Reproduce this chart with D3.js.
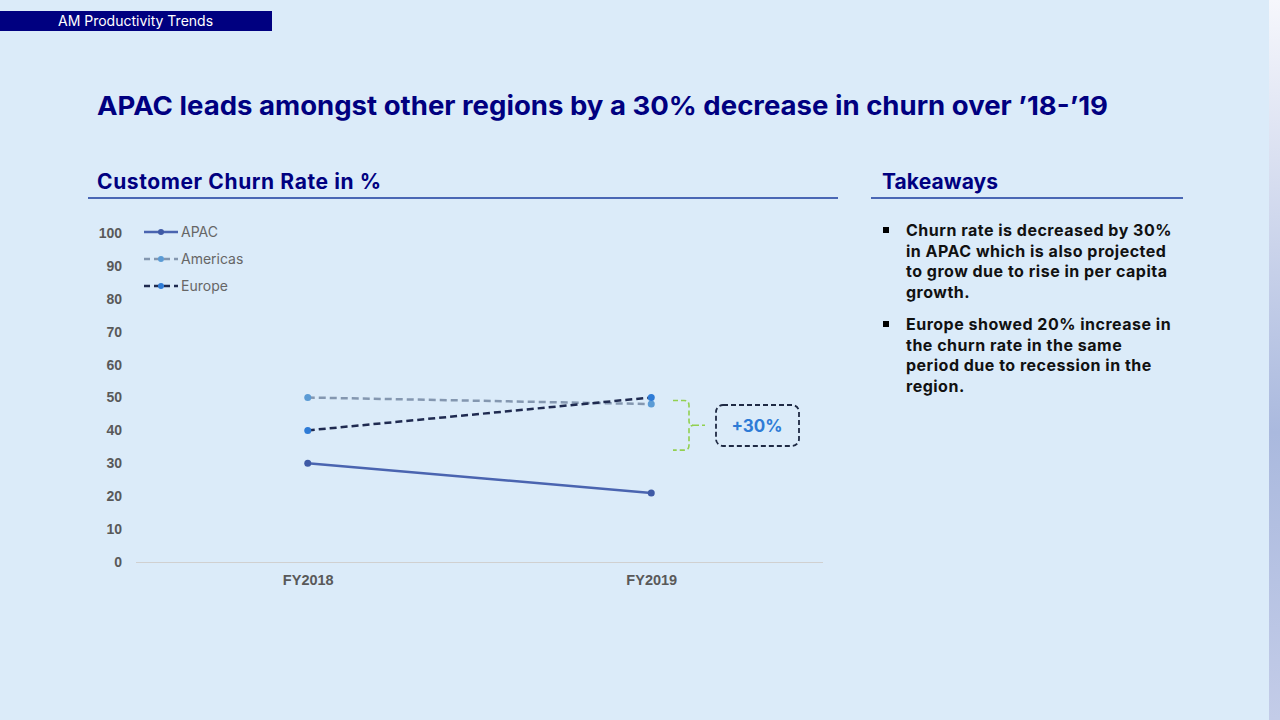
<!DOCTYPE html>
<html>
<head>
<meta charset="utf-8">
<script src="https://cdn.jsdelivr.net/npm/d3@7"></script>
<style>
  html, body { margin: 0; padding: 0; background: #dbebf9; }
  svg { display: block; }
</style>
</head>
<body>
<svg id="slide" width="1280" height="720"></svg>
<script>
// chart data
var years = ["FY2018", "FY2019"];
var apac = [30, 21];
var americas = [50, 48];
var europe = [40, 50];
var yTicks = [0, 10, 20, 30, 40, 50, 60, 70, 80, 90, 100];
var seriesNames = ["APAC", "Americas", "Europe"];
var deltaLabel = "+30%";

var takeaways = [
  ["Churn rate is decreased by 30%", "in APAC which is also projected", "to grow due to rise in per capita", "growth."],
  ["Europe showed 20% increase in", "the churn rate in the same", "period due to recession in the", "region."]
];

var navy = "#000080";
var sansFont = "Inter, 'Noto Sans', sans-serif";
var axisFont = "'Liberation Sans', Arial, sans-serif";

var svg = d3.select("#slide");

// right edge gradient strip
var defs = svg.append("defs");
var grad = defs.append("linearGradient")
    .attr("id", "edge")
    .attr("x1", 0).attr("y1", 0).attr("x2", 0).attr("y2", 1);
grad.append("stop").attr("offset", "0%").attr("stop-color", "#f6f7fc");
grad.append("stop").attr("offset", "60%").attr("stop-color", "#aab9de");
grad.append("stop").attr("offset", "100%").attr("stop-color", "#c3cce8");

svg.append("rect").attr("width", 1280).attr("height", 720).attr("fill", "#dbebf9");
svg.append("rect").attr("x", 1269).attr("y", 0).attr("width", 11).attr("height", 720)
    .attr("fill", "url(#edge)");

// header tag
svg.append("rect").attr("x", 0).attr("y", 11).attr("width", 272).attr("height", 20).attr("fill", navy);
svg.append("text")
    .attr("x", 58).attr("y", 26)
    .attr("fill", "#ffffff")
    .style("font-family", sansFont)
    .style("font-size", "14px")
    .text("AM Productivity Trends");

// title
svg.append("text")
    .attr("x", 97).attr("y", 115)
    .attr("fill", navy)
    .style("font-family", sansFont)
    .style("font-size", "26px")
    .style("font-weight", "bold")
    .attr("textLength", 1011)
    .attr("lengthAdjust", "spacingAndGlyphs")
    .text("APAC leads amongst other regions by a 30% decrease in churn over \u201918-\u201919");

// section headers
svg.append("text")
    .attr("x", 97).attr("y", 189)
    .attr("fill", navy)
    .style("font-family", sansFont)
    .style("font-size", "21px")
    .style("letter-spacing", "0.6px")
    .style("font-weight", "bold")
    .text("Customer Churn Rate in %");
svg.append("line").attr("x1", 88).attr("x2", 838).attr("y1", 198).attr("y2", 198)
    .attr("stroke", "#4a67b5").attr("stroke-width", 2);

svg.append("text")
    .attr("x", 882).attr("y", 189)
    .attr("fill", navy)
    .style("font-family", sansFont)
    .style("font-size", "21px")
    .style("letter-spacing", "0.1px")
    .style("font-weight", "bold")
    .text("Takeaways");
svg.append("line").attr("x1", 871).attr("x2", 1183).attr("y1", 198).attr("y2", 198)
    .attr("stroke", "#4a67b5").attr("stroke-width", 2);

// takeaways bullets
var lineH = 20.7;
takeaways.forEach(function (lines, i) {
  var top = 236 + i * 94;
  svg.append("rect").attr("x", 883).attr("y", top - 9).attr("width", 6).attr("height", 6).attr("fill", "#000");
  var t = svg.append("text")
      .attr("x", 906).attr("y", top)
      .attr("fill", "#111")
      .style("font-family", sansFont)
      .style("font-size", "16px")
      .style("letter-spacing", "0.5px")
      .style("font-weight", "bold");
  t.selectAll("tspan")
      .data(lines)
      .enter().append("tspan")
      .attr("x", 906)
      .attr("dy", function (d, j) { return j === 0 ? 0 : lineH; })
      .text(function (d) { return d; });
});

// chart
var x = d3.scalePoint().domain(years).range([136, 823]).padding(0.5);
var y = d3.scaleLinear().domain([0, 100]).range([562, 233]);

var yAxis = d3.axisLeft(y).tickValues(yTicks).tickSize(0).tickPadding(0);
var gy = svg.append("g").attr("transform", "translate(122,0)").call(yAxis);
gy.select(".domain").remove();
gy.selectAll("text")
    .attr("fill", "#595959")
    .style("font-family", axisFont)
    .style("font-size", "14px")
    .style("font-weight", "bold");

var xAxis = d3.axisBottom(x).tickSize(0).tickPadding(13);
var gx = svg.append("g").attr("transform", "translate(0,562)").call(xAxis);
gx.select(".domain").attr("stroke", "#d0d0d0").attr("d", "M136,0.5H823");
gx.selectAll("text")
    .attr("fill", "#595959")
    .style("font-family", axisFont)
    .style("font-size", "14.5px")
    .style("font-weight", "bold");

var series = [
  { name: seriesNames[0], values: apac, line: "#4a64b0", dot: "#3f5aa6", dash: null },
  { name: seriesNames[1], values: americas, line: "#8497b0", dot: "#5b9bd5", dash: "7,4" },
  { name: seriesNames[2], values: europe, line: "#1f2a50", dot: "#2e7bd6", dash: "7,4" }
];

var line = d3.line()
    .x(function (d, i) { return x(years[i]); })
    .y(function (d) { return y(d); });

series.forEach(function (s) {
  svg.append("path")
      .datum(s.values)
      .attr("d", line)
      .attr("fill", "none")
      .attr("stroke", s.line)
      .attr("stroke-width", 2.5)
      .attr("stroke-dasharray", s.dash);
  svg.selectAll(null)
      .data(s.values)
      .enter().append("circle")
      .attr("cx", function (d, i) { return x(years[i]); })
      .attr("cy", function (d) { return y(d); })
      .attr("r", 3.5)
      .attr("fill", s.dot);
});

// legend
series.forEach(function (s, i) {
  var ly = 232 + i * 27;
  svg.append("line").attr("x1", 144).attr("x2", 178).attr("y1", ly).attr("y2", ly)
      .attr("stroke", s.line).attr("stroke-width", 2.5)
      .attr("stroke-dasharray", s.dash ? "6,4" : null);
  svg.append("circle").attr("cx", 161).attr("cy", ly).attr("r", 3).attr("fill", s.dot);
  svg.append("text").attr("x", 181).attr("y", ly + 5)
      .attr("fill", "#666")
      .style("font-family", sansFont)
      .style("font-size", "14px")
      .text(s.name);
});

// bracket annotation
var bTop = y(europe[1]) + 3, bBot = y(europe[1] - 16);
var bMid = (bTop + bBot) / 2;
svg.append("path")
    .attr("d", "M673," + bTop + "H684Q689," + bTop + " 689," + (bTop + 5) +
         "V" + (bMid - 4) + "Q689," + bMid + " 694," + bMid +
         "Q689," + bMid + " 689," + (bMid + 4) +
         "V" + (bBot - 5) + "Q689," + bBot + " 684," + bBot + "H673")
    .attr("fill", "none")
    .attr("stroke", "#92d050")
    .attr("stroke-width", 1.6)
    .attr("stroke-dasharray", "5,3");
svg.append("line").attr("x1", 694).attr("x2", 705).attr("y1", bMid).attr("y2", bMid)
    .attr("stroke", "#92d050").attr("stroke-width", 1.6).attr("stroke-dasharray", "5,3");

svg.append("rect")
    .attr("x", 716).attr("y", 405).attr("width", 83).attr("height", 41).attr("rx", 7)
    .attr("fill", "none")
    .attr("stroke", "#1f2a44")
    .attr("stroke-width", 1.8)
    .attr("stroke-dasharray", "5,3");
svg.append("text")
    .attr("x", 757).attr("y", 432)
    .attr("text-anchor", "middle")
    .attr("fill", "#2e7bd6")
    .style("font-family", sansFont)
    .style("font-size", "17px")
    .style("font-weight", "bold")
    .text(deltaLabel);
</script>
</body>
</html>
